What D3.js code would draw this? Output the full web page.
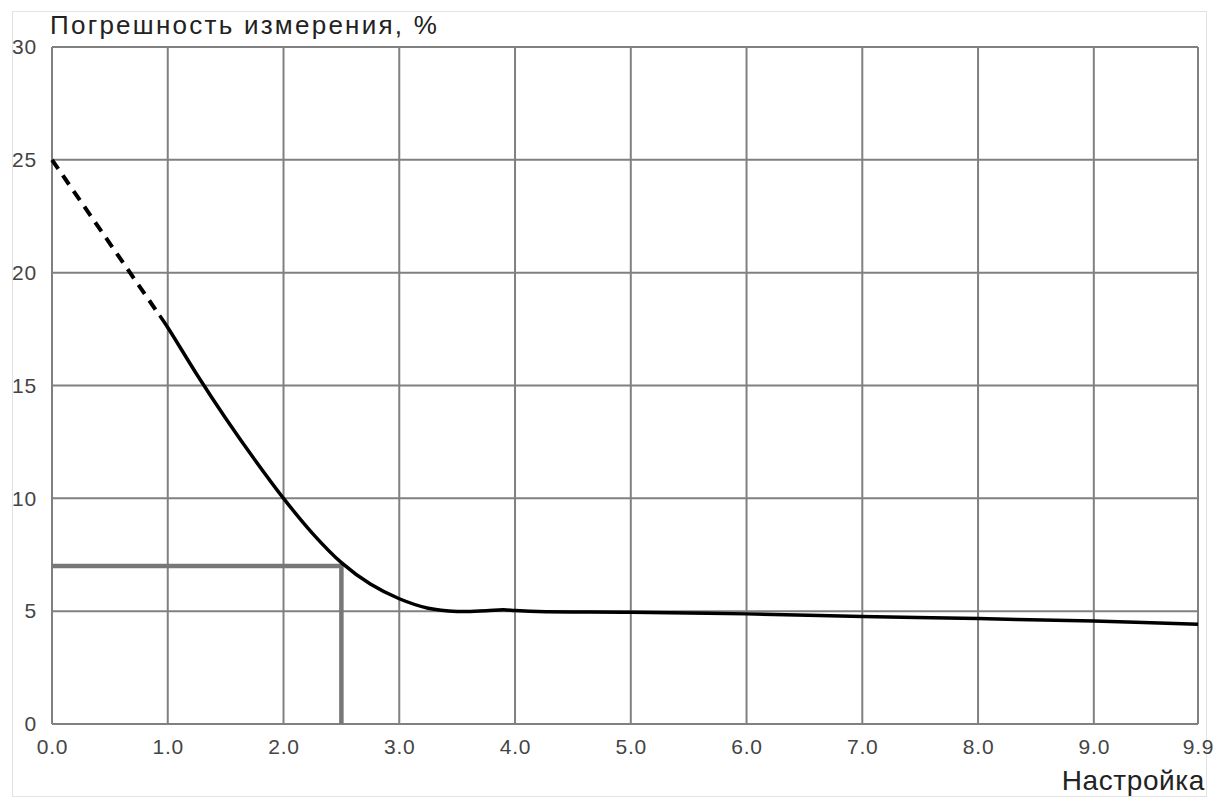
<!DOCTYPE html>
<html><head><meta charset="utf-8">
<script src="https://cdn.jsdelivr.net/npm/d3@7"></script>
<style>body{margin:0;background:#fff}svg{display:block}text{font-family:"Liberation Sans",Arial,sans-serif}</style>
</head><body><svg id="c" width="1217" height="798"></svg>
<script>
const xTicks = [0,1,2,3,4,5,6,7,8,9,9.9];
const xTickLabels = ["0.0","1.0","2.0","3.0","4.0","5.0","6.0","7.0","8.0","9.0","9.9"];
const yTicks = [0,5,10,15,20,25,30];
const dashedX = [0, 0.93];
const dashedY = [25, 18.1];
const solidX = [0.93, 1.0, 1.25, 1.5, 1.75, 2.0, 2.25, 2.5, 2.75, 3.0, 3.25, 3.5, 3.75, 3.9, 4.0, 4.2, 5.0, 6.0, 7.0, 8.0, 9.0, 9.9];
const solidY = [18.1, 17.57, 15.5, 13.55, 11.72, 10.0, 8.45, 7.15, 6.2, 5.55, 5.13, 4.99, 5.02, 5.06, 5.03, 4.98, 4.95, 4.88, 4.76, 4.67, 4.56, 4.42];
const refX = [0, 2.5, 2.5];
const refY = [7, 7, 0];
const yTitle = "Погрешность измерения, %";
const xTitle = "Настройка";

const svg = d3.select("#c");
const x = d3.scaleLinear().domain([0, 9.9]).range([52, 1198]);
const y = d3.scaleLinear().domain([0, 30]).range([724, 47]);

svg.append("rect").attr("x",12.5).attr("y",11.5).attr("width",1194).attr("height",785)
  .attr("fill","none").attr("stroke","#e2e2e2").attr("stroke-width",1);

const grid = svg.append("g").attr("stroke","#808080").attr("stroke-width",2);
xTicks.forEach(t => grid.append("line").attr("x1",x(t)).attr("x2",x(t)).attr("y1",y(0)).attr("y2",y(30)));
yTicks.forEach(t => grid.append("line").attr("x1",x(0)).attr("x2",x(9.9)).attr("y1",y(t)).attr("y2",y(t)));

const xa = svg.append("g").attr("transform",`translate(0,${y(0)})`)
  .call(d3.axisBottom(x).tickValues(xTicks).tickFormat((d,i)=>xTickLabels[i]).tickSize(0).tickPadding(15));
xa.select(".domain").remove();
xa.selectAll("text").attr("font-size",21).attr("fill","#444").attr("letter-spacing",0.8).attr("font-family","Liberation Sans, Arial, sans-serif");

const ya = svg.append("g").attr("transform",`translate(${x(0)},0)`)
  .call(d3.axisLeft(y).tickValues(yTicks).tickSize(0).tickPadding(15));
ya.select(".domain").remove();
ya.selectAll("text").attr("font-size",21).attr("fill","#444").attr("letter-spacing",0.8).attr("font-family","Liberation Sans, Arial, sans-serif");

svg.append("path").datum(refX.map((d,i)=>[d,refY[i]]))
  .attr("d", d3.line().x(d=>x(d[0])).y(d=>y(d[1])))
  .attr("fill","none").attr("stroke","#777").attr("stroke-width",4.5);

svg.append("path").datum(dashedX.map((d,i)=>[d,dashedY[i]]))
  .attr("d", d3.line().x(d=>x(d[0])).y(d=>y(d[1])))
  .attr("fill","none").attr("stroke","#000").attr("stroke-width",4).attr("stroke-dasharray","11,8");

svg.append("path").datum(solidX.map((d,i)=>[d,solidY[i]]))
  .attr("d", d3.line().curve(d3.curveCatmullRom.alpha(0.5)).x(d=>x(d[0])).y(d=>y(d[1])))
  .attr("fill","none").attr("stroke","#000").attr("stroke-width",3.5);

svg.append("text").attr("x",50).attr("y",34).attr("font-size",26).attr("letter-spacing",2.25).attr("fill","#222").text(yTitle);
svg.append("text").attr("x",1205).attr("y",790).attr("text-anchor","end").attr("font-size",28).attr("letter-spacing",0.6).attr("fill","#222").text(xTitle);
</script></body></html>
